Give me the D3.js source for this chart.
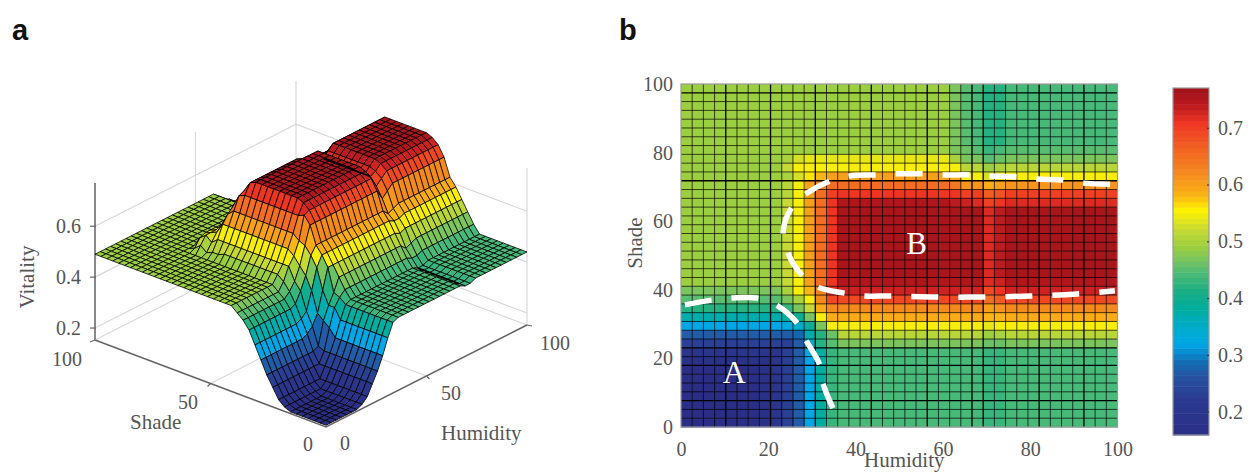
<!DOCTYPE html>
<html>
<head>
<meta charset="utf-8">
<script src="https://cdn.jsdelivr.net/npm/d3@7"></script>
<style>
body { margin: 0; background: #fff; }
text { font-family: "Liberation Serif", serif; fill: #555; font-size: 20px; }
.panel { font-family: "Liberation Sans", sans-serif; font-weight: bold; font-size: 29px; fill: #111; }
</style>
</head>
<body>
<div id="chart"></div>
<script>
// vitality in hundredths, one array per shade row, columns run with humidity
var rowFloor = [16,16,16,16,16,16,16,17,19, 23,27,32,38,43, 44,44,44,44,44,44,44,44,44,44, 44,44,44,43,43, 44,44,44,44,44,44,44,44,44,44,44];
var rowBowl7 = [17,17,17,17,17,17,17,17,19, 23,27,32,38,43, 44,44,44,44,44,44,44,44,44,44, 44,44,44,43,43, 44,44,44,44,44,44,44,44,44,44,44];
var rowBowl8 = [19,19,19,19,19,19,19,19,19, 23,27,32,38,43, 44,44,44,44,44,44,44,44,44,44, 44,44,44,43,43, 44,44,44,44,44,44,44,44,44,44,44];
var rowWall9 = [23,23,23,23,23,23,23,23,23, 23,27,35,42,45, 47,47,47,47,47,47,47,47,47,47, 47,47,47,46,46, 47,47,47,47,47,47,47,47,47,47,47];
var rowWall10 = [27,27,27,27,27,27,27,27,27, 27,28,37,42,46, 51,51,51,51,51,51,51,51,51,51, 51,51,51,49,50, 51,51,51,51,51,51,51,51,51,51,51];
var rowRise11 = [32,32,32,32,32,32,32,32,32, 33,35,39,47,55, 55,55,55,55,55,55,55,55,55,55, 55,55,55,54,55, 55,55,55,55,55,55,55,55,55,55,55];
var rowRise12 = [37,37,37,37,37,37,37,37,37, 38,40,47,55,59, 59,59,59,59,59,59,59,59,59,59, 59,59,59,58,58, 59,59,59,59,59,59,59,59,59,59,59];
var rowRise13 = [42,42,42,42,42,42,42,42,42, 43,47,52,59,62, 62,62,62,62,62,62,62,62,62,62, 62,62,62,60,61, 62,62,62,62,62,62,62,62,62,62,62];
var rowRise14 = [45,45,45,45,45,45,45,45,45, 47,50,55,62,69, 69,69,69,69,69,69,69,69,69,69, 69,69,69,65,67, 69,69,69,69,69,69,69,69,69,69,69];
var rowRise15 = [47,47,47,47,47,47,47,47,47, 50,55,58,63,72, 73,73,73,73,73,73,73,73,73,73, 73,73,73,69,71, 73,73,73,73,73,73,73,73,73,73,73];
var rowEdge16 = [49,49,49,49,49,49,49,49,49, 52,55,60,65,71, 75,75,75,75,75,75,75,75,75,75, 75,75,75,72,73, 75,75,75,75,75,75,75,75,75,75,75];
var rowRidge = [49,49,49,49,49,49,49,49,49, 52,55,60,65,71, 76,76,76,76,76,76,76,76,76,76, 76,76,76,72,74, 76,76,76,76,76,76,76,76,76,76,76];
var rowFall25 = [49,49,49,49,49,49,49,49,49, 52,55,60,65,71, 75,75,75,75,75,75,75,75,75,75, 74,73,72,70,71, 72,72,72,72,72,72,72,72,72,72,72];
var rowFall26 = [49,49,49,49,49,49,49,49,49, 51,55,60,65,70, 71,71,71,71,71,71,71,71,71,71, 71,70,70,67,68, 70,70,70,70,70,70,70,70,70,70,70];
var rowFall27 = [49,49,49,49,49,49,49,49,49, 51,55,60,63,65, 65,65,65,65,65,65,65,65,65,65, 64,61,61,59,60, 61,61,61,61,61,61,61,61,61,61,61];
var rowFall28 = [49,49,49,49,49,49,49,49,49, 50,53,56,58,60, 60,60,60,60,60,60,60,60,60,60, 59,55,55,53,54, 55,55,55,55,55,55,55,55,55,55,55];
var rowFall29 = [49,49,49,49,49,49,49,49,49, 52,55,55,55,55, 55,55,55,55,55,55,55,55,55,55, 55,51,51,49,50, 51,51,51,51,51,51,51,51,51,51,51];
var rowFall30 = [49,49,49,49,49,49,49,49,49, 50,53,54,54,54, 54,54,54,54,54,54,54,54,54,54, 50,47,47,45,46, 47,47,47,47,47,47,47,47,47,47,47];
var rowFall31 = [49,49,49,49,49,49,49,49,49, 49,49,49,49,49, 49,49,49,49,49,49,49,49,49,49, 47,46,45,43,44, 45,45,45,45,45,45,45,45,45,45,45];
var rowTop = [49,49,49,49,49,49,49,49,49, 49,49,49,49,49, 49,49,49,49,49,49,49,49,49,49, 47,45,44,42,42, 44,44,44,44,44,44,44,44,44,44,44];

var vitalityRows = [
    rowFloor, rowFloor, rowFloor, rowFloor, rowFloor, rowFloor, rowFloor, rowBowl7, rowBowl8, rowWall9,
    rowWall10, rowRise11, rowRise12, rowRise13, rowRise14, rowRise15, rowEdge16, rowRidge, rowRidge, rowRidge,
    rowRidge, rowRidge, rowRidge, rowRidge, rowRidge, rowFall25, rowFall26, rowFall27, rowFall28, rowFall29,
    rowFall30, rowFall31, rowTop, rowTop, rowTop, rowTop, rowTop, rowTop, rowTop, rowTop
];

var colorStops = [0.159, 0.22, 0.26, 0.29, 0.32, 0.35, 0.38, 0.41, 0.445, 0.47, 0.49, 0.52, 0.555, 0.58, 0.62, 0.66, 0.71, 0.74, 0.77];
var colorValues = ["#2b2f86", "#2b3990", "#27509f", "#1270b8", "#00a7e6", "#00acc8", "#00ad9f", "#17ad85", "#4fbb76", "#7cc55c", "#9ccf40", "#c6d935", "#fff200", "#fbb616", "#f58a1f", "#f26522", "#ee3524", "#bb1a21", "#9e1118"];

var heatTicks = [0, 20, 40, 60, 80, 100];
var colorbarTicks = [0.2, 0.3, 0.4, 0.5, 0.6, 0.7];
var surfaceZTicks = [0.2, 0.4, 0.6];
var heavyCols = [4, 8, 12, 17, 22, 26, 27, 32, 36];
var heavyRows = [3, 7, 9, 28, 38];
var creaseCol = 27;
var creaseFlatRows = [1, 2, 3, 4, 5, 6, 7, 8];
var creaseRidgeRows = [16, 17, 18, 19, 20, 21, 22, 23, 24];

// dashed boundaries on panel b, humidity and shade
var regionAHumidity = [0.9, 7.1, 11.7, 17.4, 21.8, 26.6, 28.6, 31.8, 32.5, 34.8];
var regionAShade = [35.6, 37, 37.6, 37.6, 35.6, 30.3, 25.4, 18.1, 12.8, 5.5];
var regionBHumidity = [98.3, 92.1, 87.5, 81.6, 77, 70.8, 66.2, 60, 55.4, 49.5, 44.9, 38.7, 34.1, 28.9, 25.4, 23.4, 24.5, 27.7, 31.4, 37.1, 42.2, 47.9, 58.6, 69.4, 80.2, 90.7, 99.4];
var regionBShade = [70.8, 71.1, 72, 72.3, 72.9, 73.2, 73.5, 73.5, 73.8, 73.8, 73.5, 73.2, 71.7, 68.2, 64.1, 56.9, 50.7, 44.3, 40.8, 39.1, 38.2, 38.2, 37.9, 37.9, 38.2, 38.8, 39.7];

var nodes = vitalityRows.length;
var gridStep = 100 / (nodes - 1);

var svg = d3.select("#chart").append("svg").attr("width", 1251).attr("height", 472);

var blur = svg.append("defs").append("filter").attr("id", "soft")
    .attr("x", "-5%").attr("y", "-5%").attr("width", "110%").attr("height", "110%");
blur.append("feGaussianBlur").attr("stdDeviation", 0.5);

var color = d3.scaleLinear().domain(colorStops).range(colorValues).clamp(true);

svg.append("text").attr("class", "panel").attr("x", 12).attr("y", 40).text("a");
svg.append("text").attr("class", "panel").attr("x", 619).attr("y", 40).text("b");

// panel a, surface seen from the corner where humidity and shade are both 0
var hx = d3.scaleLinear().domain([0, 100]).range([0, 201]);
var hy = d3.scaleLinear().domain([0, 100]).range([0, -102]);
var sx = d3.scaleLinear().domain([0, 100]).range([0, -231]);
var sy = d3.scaleLinear().domain([0, 100]).range([0, -87]);
var zy = d3.scaleLinear().domain([0.153, 0.77]).range([0, -157]);
var zMin = 0.153, zMax = 0.77;

function project(h, s, z) {
    return [326 + hx(h) + sx(s), 427 + hy(h) + sy(s) + zy(z)];
}

var walls = svg.append("g").attr("stroke", "#d8d8d8").attr("stroke-width", 1.2).attr("fill", "none");
var wallLine = d3.line();
surfaceZTicks.forEach(function(z) {
    walls.append("path").attr("d", wallLine([project(0, 100, z), project(100, 100, z), project(100, 0, z)]));
});
[[50, 100], [100, 100], [100, 50], [100, 0]].forEach(function(p) {
    walls.append("path").attr("d", wallLine([project(p[0], p[1], zMin), project(p[0], p[1], zMax)]));
});
walls.append("path").attr("d", wallLine([project(50, 0, zMin), project(50, 100, zMin)]));
walls.append("path").attr("d", wallLine([project(0, 50, zMin), project(100, 50, zMin)]));
walls.append("path").attr("d", wallLine([project(0, 100, zMin), project(100, 100, zMin), project(100, 0, zMin)]));

var axes3d = svg.append("g").attr("stroke", "#666").attr("fill", "none");
axes3d.append("path").attr("stroke-width", 1.6).attr("d", wallLine([project(0, 100, zMin), project(0, 0, zMin), project(100, 0, zMin)]));
axes3d.append("path").attr("stroke-width", 2).attr("stroke", "#888").attr("d", wallLine([project(0, 100, zMin), project(0, 100, zMax)]));
surfaceZTicks.forEach(function(z) {
    var p = project(0, 100, z);
    axes3d.append("path").attr("stroke-width", 1.2).attr("d", wallLine([[p[0] - 5, p[1]], [p[0] + 1, p[1]]]));
});
[[50, 0, 3, 3], [0, 50, -3, 3], [100, 0, 5, 1], [0, 100, -5, 2]].forEach(function(t) {
    var p = project(t[0], t[1], zMin);
    axes3d.append("path").attr("stroke-width", 1.2).attr("d", wallLine([p, [p[0] + t[2], p[1] + t[3]]]));
});

// back cells first so the ones in front paint over them
var faces = [];
d3.range(nodes - 2, -1, -1).forEach(function(i) {
    d3.range(nodes - 2, -1, -1).forEach(function(j) {
        faces.push({ i: i, j: j });
    });
});

function node(i, j) {
    return project(i * gridStep, j * gridStep, vitalityRows[j][i] / 100);
}

var surface = svg.append("g").attr("filter", "url(#soft)");
surface.selectAll("path")
    .data(faces)
    .enter()
    .append("path")
        .attr("d", function(d) {
            return wallLine([node(d.i, d.j), node(d.i + 1, d.j), node(d.i + 1, d.j + 1), node(d.i, d.j + 1)]) + "Z";
        })
        .style("fill", function(d) { return color(vitalityRows[d.j][d.i] / 100); })
        .attr("stroke", "#000")
        .attr("stroke-width", 0.8)
        .attr("stroke-linejoin", "round");

[creaseFlatRows, creaseRidgeRows].forEach(function(rows) {
    surface.append("path")
        .attr("d", wallLine(rows.map(function(j) { return node(creaseCol, j); })))
        .attr("fill", "none")
        .attr("stroke", "#000")
        .attr("stroke-width", 1.6);
});

surfaceZTicks.forEach(function(z) {
    var p = project(0, 100, z);
    svg.append("text").attr("x", 81).attr("y", p[1] + 7).attr("text-anchor", "end").text(z.toFixed(1));
});
var labels3d = [["100", 67, 366], ["50", 188, 409], ["0", 308, 451], ["0", 345, 450], ["50", 451, 400], ["100", 555, 350]];
labels3d.forEach(function(l) {
    svg.append("text").attr("x", l[1]).attr("y", l[2]).attr("text-anchor", "middle").text(l[0]);
});
svg.append("text").attr("x", 130).attr("y", 429).style("font-size", "21px").text("Shade");
svg.append("text").attr("x", 441).attr("y", 440).style("font-size", "21px").text("Humidity");
svg.append("text").attr("transform", "translate(34,277) rotate(-90)").attr("text-anchor", "middle").style("font-size", "21px").text("Vitality");

// panel b, same values seen from above
var margin = { left: 681, top: 84 };
var width = 436.5, height = 343;
var x = d3.scaleLinear().domain([0, 100]).range([0, width]);
var y = d3.scaleLinear().domain([0, 100]).range([height, 0]);
var g = svg.append("g").attr("transform", "translate(" + margin.left + "," + margin.top + ")");

var heat = g.append("g").attr("filter", "url(#soft)");
heat.selectAll("rect")
    .data(faces)
    .enter()
    .append("rect")
        .attr("x", function(d) { return x(d.i * gridStep); })
        .attr("y", function(d) { return y((d.j + 1) * gridStep); })
        .attr("width", x(gridStep) + 0.5)
        .attr("height", y(0) - y(gridStep) + 0.5)
        .style("fill", function(d) { return color(vitalityRows[d.j][d.i] / 100); });

heat.selectAll(".col-line")
    .data(d3.range(1, nodes - 1))
    .enter()
    .append("line")
        .attr("class", "col-line")
        .attr("x1", function(d) { return x(d * gridStep); })
        .attr("x2", function(d) { return x(d * gridStep); })
        .attr("y1", 0)
        .attr("y2", height)
        .attr("stroke", "#000")
        .attr("stroke-opacity", function(d) { return heavyCols.indexOf(d) >= 0 ? 1 : 0.7; })
        .attr("stroke-width", function(d) { return heavyCols.indexOf(d) >= 0 ? 1.3 : 1; });
heat.selectAll(".row-line")
    .data(d3.range(1, nodes - 1))
    .enter()
    .append("line")
        .attr("class", "row-line")
        .attr("y1", function(d) { return y(d * gridStep); })
        .attr("y2", function(d) { return y(d * gridStep); })
        .attr("x1", 0)
        .attr("x2", width)
        .attr("stroke", "#000")
        .attr("stroke-opacity", function(d) { return heavyRows.indexOf(d) >= 0 ? 1 : 0.7; })
        .attr("stroke-width", function(d) { return heavyRows.indexOf(d) >= 0 ? 1.3 : 1; });

g.append("rect").attr("width", width).attr("height", height)
    .attr("fill", "none").attr("stroke", "#999").attr("stroke-width", 1.2);

var boundary = d3.line().curve(d3.curveCatmullRom)
    .x(function(d) { return x(d[0]); })
    .y(function(d) { return y(d[1]); });
[[regionAHumidity, regionAShade], [regionBHumidity, regionBShade]].forEach(function(r) {
    g.append("path")
        .attr("d", boundary(d3.zip(r[0], r[1])))
        .attr("fill", "none")
        .attr("stroke", "#fff")
        .attr("stroke-width", 5.5)
        .attr("stroke-dasharray", "27 20");
});

g.append("text").attr("x", x(12.2)).attr("y", y(12.7)).attr("text-anchor", "middle").style("fill", "#fff").style("font-size", "32px").text("A");
g.append("text").attr("x", x(54)).attr("y", y(50.5)).attr("text-anchor", "middle").style("fill", "#fff").style("font-size", "31px").text("B");

var xAxis = g.append("g").attr("transform", "translate(0," + height + ")")
    .call(d3.axisBottom(x).tickValues(heatTicks).tickSize(0).tickPadding(15));
var yAxis = g.append("g").call(d3.axisLeft(y).tickValues(heatTicks).tickSize(0).tickPadding(8));
xAxis.select(".domain").remove();
yAxis.select(".domain").remove();
g.selectAll(".tick text").style("font-family", "Liberation Serif").style("font-size", "20px").style("fill", "#555");

svg.append("text").attr("x", 864).attr("y", 467).style("font-size", "21px").text("Humidity");
svg.append("text").attr("transform", "translate(642,243) rotate(-90)").attr("text-anchor", "middle").style("font-size", "21px").text("Shade");

// colour bar
var barX = 1173, barW = 36;
var barScale = d3.scaleLinear().domain([zMin + 0.006, zMax]).range([435, 88]);
var barLevels = d3.range(64).map(function(d) { return d / 64; });
svg.append("g").selectAll("rect")
    .data(barLevels)
    .enter()
    .append("rect")
        .attr("x", barX)
        .attr("width", barW)
        .attr("y", function(d) { return barScale(barScale.domain()[0] + (d + 1 / 64) * (zMax - barScale.domain()[0])); })
        .attr("height", (435 - 88) / 64 + 0.5)
        .style("fill", function(d) { return color(barScale.domain()[0] + (d + 0.5 / 64) * (zMax - barScale.domain()[0])); });
svg.append("rect").attr("x", barX).attr("y", 88).attr("width", barW).attr("height", 347)
    .attr("fill", "none").attr("stroke", "#999").attr("stroke-width", 1.2);
var barAxis = svg.append("g").attr("class", "bar-axis").attr("transform", "translate(" + (barX + barW) + ",0)")
    .call(d3.axisRight(barScale).tickValues(colorbarTicks).tickSize(-2).tickPadding(9).tickFormat(d3.format(".1f")));
barAxis.select(".domain").remove();
barAxis.selectAll("line").attr("stroke", "#333");
barAxis.selectAll("text").style("font-family", "Liberation Serif").style("font-size", "20px").style("fill", "#555");
</script>
</body>
</html>
